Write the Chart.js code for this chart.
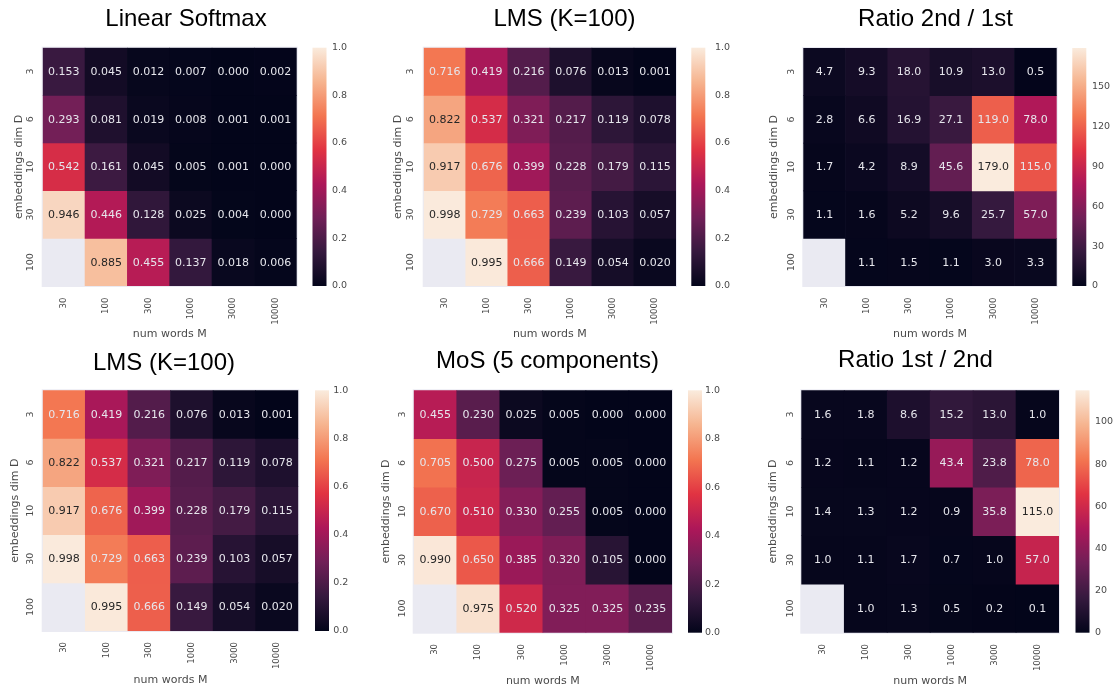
<!DOCTYPE html>
<html><head><meta charset="utf-8">
<script src="https://cdn.jsdelivr.net/npm/chart.js"></script>
<style>
html,body{margin:0;padding:0;background:#fff;width:1115px;height:694px;overflow:hidden;position:relative}
canvas{position:absolute}
</style></head><body>
<script>
// ---- data ----
const numWords = ['30','100','300','1000','3000','10000'];
const embedDims = ['3','6','10','30','100'];

const linearSoftmax = [
  [0.153,0.045,0.012,0.007,0.000,0.002],
  [0.293,0.081,0.019,0.008,0.001,0.001],
  [0.542,0.161,0.045,0.005,0.001,0.000],
  [0.946,0.446,0.128,0.025,0.004,0.000],
  [null, 0.885,0.455,0.137,0.018,0.006]];
const lmsK100 = [
  [0.716,0.419,0.216,0.076,0.013,0.001],
  [0.822,0.537,0.321,0.217,0.119,0.078],
  [0.917,0.676,0.399,0.228,0.179,0.115],
  [0.998,0.729,0.663,0.239,0.103,0.057],
  [null, 0.995,0.666,0.149,0.054,0.020]];
const ratio2ndTo1st = [
  [4.7,9.3,18.0,10.9,13.0,0.5],
  [2.8,6.6,16.9,27.1,119.0,78.0],
  [1.7,4.2,8.9,45.6,179.0,115.0],
  [1.1,1.6,5.2,9.6,25.7,57.0],
  [null,1.1,1.5,1.1,3.0,3.3]];
const mos5 = [
  [0.455,0.230,0.025,0.005,0.000,0.000],
  [0.705,0.500,0.275,0.005,0.005,0.000],
  [0.670,0.510,0.330,0.255,0.005,0.000],
  [0.990,0.650,0.385,0.320,0.105,0.000],
  [null, 0.975,0.520,0.325,0.325,0.235]];
const ratio1stTo2nd = [
  [1.6,1.8,8.6,15.2,13.0,1.0],
  [1.2,1.1,1.2,43.4,23.8,78.0],
  [1.4,1.3,1.2,0.9,35.8,115.0],
  [1.0,1.1,1.7,0.7,1.0,57.0],
  [null,1.0,1.3,0.5,0.2,0.1]];
const unitTicks = [0,0.2,0.4,0.6,0.8,1.0];
const ratio21Ticks = [0,30,60,90,120,150];
const ratio12Ticks = [0,20,40,60,80,100];

// ---- colormap (seaborn "rocket") ----
const rocketStops = [[0,'#03051A'],[1/7,'#35193E'],[2/7,'#701F57'],[3/7,'#AD1759'],
  [4/7,'#E13342'],[5/7,'#F37651'],[6/7,'#F6B48F'],[1,'#FAEBDD']];
function hexRgb(h){return [parseInt(h.slice(1,3),16),parseInt(h.slice(3,5),16),parseInt(h.slice(5,7),16)];}
function rocket(t){
  t=Math.max(0,Math.min(1,t));
  for(let k=1;k<rocketStops.length;k++){
    if(t<=rocketStops[k][0]){
      const [t0,c0]=rocketStops[k-1],[t1,c1]=rocketStops[k];
      const f=(t-t0)/(t1-t0),a=hexRgb(c0),b=hexRgb(c1);
      return a.map((v,i)=>Math.round(v+(b[i]-v)*f));
    }
  }
  return hexRgb(rocketStops[rocketStops.length-1][1]);
}
function lum(rgb){
  const f=c=>{c/=255;return c<=0.03928?c/12.92:Math.pow((c+0.055)/1.055,2.4);};
  return 0.2126*f(rgb[0])+0.7152*f(rgb[1])+0.0722*f(rgb[2]);
}
const rgbStr=a=>`rgb(${a[0]},${a[1]},${a[2]})`;

const XTICK_FONT={family:'DejaVu Sans',size:8.5};
const YTICK_FONT={family:'DejaVu Sans',size:9.5};
const LABEL_FONT={family:'DejaVu Sans',size:11};
const GREY='#4a4a4a';

const panels=[
 {title:'Linear Softmax',values:linearSoftmax,vmax:1,cbTicks:unitTicks,dec:3,tdec:1,
  L:0,W:372,T:0,H:344,heatL:42.7,heatR:296.7,heatT:47.7,heatB:286,cbLeft:312.5,cbLabel:332,
  titleCY:18.7,ylabelCX:19,yTickCX:31,xTickTop:297.7,xlabelCY:334},
 {title:'LMS (K=100)',values:lmsK100,vmax:1,cbTicks:unitTicks,dec:3,tdec:1,
  L:385,W:359,T:0,H:344,heatL:423.7,heatR:676,heatT:47.7,heatB:286,cbLeft:691.3,cbLabel:715,
  titleCY:18.7,ylabelCX:398,yTickCX:411,xTickTop:297.7,xlabelCY:334.5},
 {title:'Ratio 2nd / 1st',values:ratio2ndTo1st,vmax:179,cbTicks:ratio21Ticks,dec:1,tdec:0,
  L:758,W:355,T:0,H:344,heatL:803.3,heatR:1056.7,heatT:48,heatB:286,cbLeft:1072.3,cbLabel:1092,
  titleCY:19,ylabelCX:774,yTickCX:792,xTickTop:297.7,xlabelCY:334},
 {title:'LMS (K=100)',values:lmsK100,vmax:1,cbTicks:unitTicks,dec:3,tdec:1,
  L:-24,W:376,T:344,H:350,heatL:42.7,heatR:298.3,heatT:390.3,heatB:631,cbLeft:315,cbLabel:333.3,
  titleCY:362.7,ylabelCX:15,yTickCX:31,xTickTop:642,xlabelCY:679.7},
 {title:'MoS (5 components)',values:mos5,vmax:1,cbTicks:unitTicks,dec:3,tdec:1,
  L:372,W:351,T:344,H:350,heatL:413.7,heatR:672,heatT:390.3,heatB:632.7,cbLeft:688,cbLabel:705,
  titleCY:361.3,ylabelCX:386.3,yTickCX:402.8,xTickTop:644,xlabelCY:681},
 {title:'Ratio 1st / 2nd',values:ratio1stTo2nd,vmax:115,cbTicks:ratio12Ticks,dec:1,tdec:0,
  L:717,W:397,T:344,H:350,heatL:801.3,heatR:1059,heatT:390.3,heatB:632.7,cbLeft:1075.5,cbLabel:1095,
  titleCY:360.3,ylabelCX:773,yTickCX:790.7,xTickTop:644,xlabelCY:681}
];

function makePanel(p){
  const cv=document.createElement('canvas');
  cv.width=p.W;cv.height=p.H;
  cv.style.left=p.L+'px';cv.style.top=p.T+'px';
  cv.style.width=p.W+'px';cv.style.height=p.H+'px';
  document.body.appendChild(cv);
  const vals=p.values;
  const datasets=embedDims.map((d,i)=>({
    label:d,xAxisID:'x',yAxisID:'y',
    data:numWords.map((w,j)=>vals[i][j]==null?null:[i,i+1]),
    backgroundColor:ctx=>{const v=vals[i][ctx.dataIndex];return v==null?'rgba(0,0,0,0)':rgbStr(rocket(v/p.vmax));},
    borderWidth:0,barPercentage:1,categoryPercentage:1,grouped:false
  }));
  const tPadTop=Math.max(0,p.titleCY+0.3-p.T-14.4);
  const tPadBot=(p.heatT-p.T)-tPadTop-28.8;
  const bgPlugin={id:'bg'+p.L,beforeDatasetsDraw(chart){
    const a=chart.chartArea,c=chart.ctx;c.save();c.fillStyle='#EAEAF2';
    c.fillRect(a.left-1,a.top-1,a.right-a.left+2,a.bottom-a.top+2);c.restore();}};
  const annotPlugin={id:'annot'+p.L,afterDatasetsDraw(chart){
    const c=chart.ctx;c.save();c.font='11px "DejaVu Sans"';c.textAlign='center';c.textBaseline='middle';
    chart.data.datasets.forEach((ds,i)=>{
      chart.getDatasetMeta(i).data.forEach((el,j)=>{
        const v=vals[i][j];if(v==null)return;
        const pt=el.getCenterPoint();
        c.fillStyle=lum(rocket(v/p.vmax))>0.408?'#262626':'#e6e6ec';
        c.fillText(v.toFixed(p.dec),pt.x,pt.y+0.5);
      });
    });c.restore();}};
  const cbPlugin={id:'cbar'+p.L,afterDraw(chart){
    const s=chart.scales.cb,c=chart.ctx;
    const yTop=s.getPixelForValue(p.vmax),yBot=s.getPixelForValue(0);
    const g=c.createLinearGradient(0,yBot,0,yTop);
    rocketStops.forEach(st=>g.addColorStop(st[0],st[1]));
    c.save();c.fillStyle=g;c.fillRect(s.left+(p.cbLeft-p.heatR),yTop,14,yBot-yTop);c.restore();}};
  new Chart(cv,{
    type:'bar',
    data:{labels:numWords,datasets},
    options:{
      responsive:false,animation:false,events:[],
      layout:{padding:0},
      plugins:{legend:{display:false},tooltip:{enabled:false},
        title:{display:true,text:p.title,color:'#000',
          font:{family:'Liberation Sans',size:24,weight:'normal',lineHeight:1.2},
          padding:{top:tPadTop,bottom:tPadBot}}},
      scales:{
        x:{type:'category',offset:true,grid:{display:false,drawTicks:false},border:{display:false},
          ticks:{minRotation:90,maxRotation:90,autoSkip:false,padding:p.xTickTop-p.heatB,font:XTICK_FONT,color:GREY},
          title:{display:true,text:'num words M',font:LABEL_FONT,color:GREY,
            padding:{top:0,bottom:(p.T+p.H-p.xlabelCY)-6.6}},
          afterFit:s=>{s.height=p.T+p.H-p.heatB;}},
        y:{type:'linear',min:0,max:5,reverse:true,grid:{display:false,drawTicks:false},border:{display:false},
          afterBuildTicks:s=>{s.ticks=embedDims.map((d,i)=>({value:i+0.5}));},
          ticks:{minRotation:90,maxRotation:90,crossAlign:'center',autoSkip:false,
            padding:p.heatL-p.yTickCX-9.06,callback:(v,i)=>embedDims[i],font:YTICK_FONT,color:GREY},
          title:{display:true,text:'embeddings dim D',font:LABEL_FONT,color:GREY,
            padding:{top:(p.ylabelCX-p.L)-6.6,bottom:0}},
          afterFit:s=>{s.width=p.heatL-p.L;}},
        cb:{type:'linear',axis:'y',position:'right',min:0,max:p.vmax,
          grid:{display:false,drawTicks:false},border:{display:false},
          afterBuildTicks:s=>{s.ticks=p.cbTicks.map(v=>({value:v}));},
          ticks:{padding:p.cbLabel-p.heatR,autoSkip:false,callback:v=>Number(v).toFixed(p.tdec),font:YTICK_FONT,color:GREY},
          afterFit:s=>{s.width=p.L+p.W-p.heatR;}}
      }
    },
    plugins:[bgPlugin,annotPlugin,cbPlugin]
  });
}
panels.forEach(makePanel);
</script>
</body></html>
